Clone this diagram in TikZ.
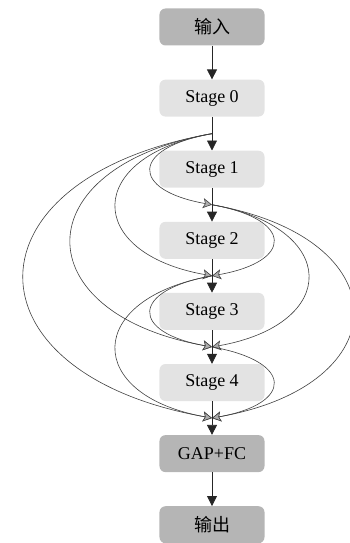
\documentclass[tikz,border=0pt]{standalone}
\usepackage{fontspec}
\setmainfont{Liberation Serif}
\newfontfamily\cjk{Noto Sans CJK SC}
\usetikzlibrary{positioning}
\usetikzlibrary{arrows.meta}
\usetikzlibrary{calc}

\begin{document}
\begin{tikzpicture}[x=1pt,y=1pt,node distance=33.7pt]
\tikzset{stagebox/.style={rectangle,minimum width=105pt,minimum height=37pt, rounded corners=6pt, fill=gray!22, font=\fontsize{18}{21}\selectfont}}
\tikzset{iobox/.style={stagebox, fill=gray!58}}
\tikzset{flow/.style={-{Triangle[length=10pt,width=10pt]}, line width=0.8pt, black!85}}
\tikzset{skip/.style={-{Stealth[length=9pt,width=10pt,inset=2pt,fill=gray!65]}, line width=0.6pt, black!75}}
\useasboundingbox (-212,27) rectangle (138,-516);
\node[iobox] (in) {\cjk 输入};
\node[stagebox, below = of in] (s0) {Stage 0};
\node[stagebox, below = of s0] (s1) {Stage 1};
\node[stagebox, below = of s1] (s2) {Stage 2};
\node[stagebox, below = of s2] (s3) {Stage 3};
\node[stagebox, below = of s3] (s4) {Stage 4};
\node[iobox, below = of s4] (gap) {GAP+FC};
\node[iobox, below = of gap] (out) {\cjk 输出};
% junction points between the stages
\coordinate (j0) at ($(s0.south)!0.5!(s1.north)$);
\coordinate (j1) at ($(s1.south)!0.5!(s2.north)$);
\coordinate (j2) at ($(s2.south)!0.5!(s3.north)$);
\coordinate (j3) at ($(s3.south)!0.5!(s4.north)$);
\coordinate (j4) at ($(s4.south)!0.5!(gap.north)$);
% skip connections
\draw[skip] (j0) to[out=190,in=170,looseness=3] (j1);
\draw[skip] (j0) to[out=190,in=170,looseness=2.35] (j2);
\draw[skip] (j0) to[out=190,in=170,looseness=2.3] (j3);
\draw[skip] (j0) to[out=190,in=170,looseness=2.3] (j4);
\draw[skip] (j1) to[out=-10,in=10,looseness=3] (j2);
\draw[skip] (j1) to[out=-10,in=10,looseness=2.35] (j3);
\draw[skip] (j1) to[out=-10,in=10,looseness=2.3] (j4);
\draw[skip] (j2) to[out=190,in=170,looseness=3] (j3);
\draw[skip] (j2) to[out=190,in=170,looseness=2.35] (j4);
\draw[skip] (j3) to[out=-10,in=10,looseness=3] (j4);
% main path
\draw[flow] (in) -- (s0);
\draw[flow] (s0) -- (s1);
\draw[flow] (s1) -- (s2);
\draw[flow] (s2) -- (s3);
\draw[flow] (s3) -- (s4);
\draw[flow] (s4) -- (gap);
\draw[flow] (gap) -- (out);
\end{tikzpicture}
\end{document}
